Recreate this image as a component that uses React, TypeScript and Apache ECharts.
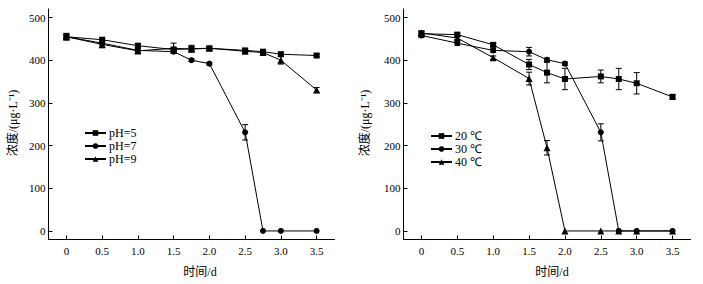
import React, { useEffect, useRef } from "react";
import * as echarts from "echarts";

const days = [0, 0.5, 1.0, 1.5, 1.75, 2.0, 2.5, 2.75, 3.0, 3.5];
const xTicks = [0, 0.5, 1.0, 1.5, 2.0, 2.5, 3.0, 3.5];
const yTicks = [0, 100, 200, 300, 400, 500];

const pH5 = [455, 448, 434, 425, 427, 428, 423, 420, 414, 411];
const pH5Err = [8, 5, 5, 5, 8, 3, 3, 3, 5, 3];
const pH7 = [455, 440, 423, 420, 400, 392, 231, 0, 0, 0];
const pH7Err = [5, 4, 4, 4, 3, 3, 18, 0, 0, 0];
const pH9 = [455, 437, 422, 428, 426, 428, 421, 418, 400, 330];
const pH9Err = [6, 8, 7, 12, 5, 4, 3, 3, 9, 6];

const t20 = [462, 460, 436, 390, 371, 356, 362, 356, 346, 314];
const t20Err = [5, 4, 4, 12, 24, 25, 15, 25, 25, 6];
const t30 = [458, 440, 423, 420, 401, 392, 231, 0, 0, 0];
const t30Err = [5, 5, 5, 10, 4, 4, 20, 0, 0, 0];
const t40 = [464, 452, 406, 357, 195, 0, 0, 0, 0, 0];
const t40Err = [5, 4, 4, 15, 17, 0, 0, 0, 0, 0];

const leftNames = ["pH=5", "pH=7", "pH=9"];
const rightNames = ["20 ℃", "30 ℃", "40 ℃"];
const symbols = ["rect", "circle", "triangle"];
const symbolSizes = [6, 6, 7];

const SERIF = "Liberation Serif";
const CJK = "Liberation Serif, Noto Sans CJK SC";

export default function App() {
  const ref = useRef<HTMLDivElement>(null);
  useEffect(() => {
    document.body.style.margin = "0";
    if (!ref.current) return;
    const chart = echarts.init(ref.current, null, { renderer: "svg" });

    const mkX = (gi: number) => ({
      type: "value",
      gridIndex: gi,
      min: -0.25,
      max: 3.75,
      axisLine: { show: true, onZero: false, lineStyle: { color: "#000", width: 1 } },
      axisTick: { show: true, inside: true, length: 4, customValues: xTicks, lineStyle: { color: "#000" } },
      axisLabel: {
        customValues: xTicks,
        color: "#000",
        fontFamily: SERIF,
        fontSize: 11,
        margin: 6,
        formatter: (v: number) => (v === 0 ? "0" : v.toFixed(1)),
      },
      splitLine: { show: false },
    });
    const mkY = (gi: number) => ({
      type: "value",
      gridIndex: gi,
      min: -20,
      max: 520,
      axisLine: { show: true, onZero: false, lineStyle: { color: "#000", width: 1 } },
      axisTick: { show: true, inside: true, length: 4, customValues: yTicks, lineStyle: { color: "#000" } },
      axisLabel: { customValues: yTicks, color: "#000", fontFamily: SERIF, fontSize: 11, margin: 3 },
      splitLine: { show: false },
    });

    const lineSeries = (name: string, vals: number[], idx: number, gi: number) => ({
      type: "line",
      name,
      xAxisIndex: gi,
      yAxisIndex: gi,
      data: days.map((d, i) => [d, vals[i]]),
      symbol: symbols[idx],
      symbolSize: symbolSizes[idx],
      showAllSymbol: true,
      lineStyle: { color: "#000", width: 1 },
      itemStyle: { color: "#000" },
      z: 3,
    });
    const errSeries = (name: string, vals: number[], errs: number[], gi: number) => ({
      type: "custom",
      name,
      xAxisIndex: gi,
      yAxisIndex: gi,
      data: days.map((d, i) => [d, vals[i], errs[i]]),
      encode: { x: 0, y: 1 },
      z: 2,
      renderItem: (params: any, api: any) => {
        const x = api.value(0);
        const y = api.value(1);
        const e = api.value(2);
        if (!e) return null;
        const top = api.coord([x, y + e]);
        const bot = api.coord([x, y - e]);
        const st = { stroke: "#000", lineWidth: 1 };
        return {
          type: "group",
          children: [
            { type: "line", shape: { x1: top[0], y1: top[1], x2: bot[0], y2: bot[1] }, style: st },
            { type: "line", shape: { x1: top[0] - 3, y1: top[1], x2: top[0] + 3, y2: top[1] }, style: st },
            { type: "line", shape: { x1: bot[0] - 3, y1: bot[1], x2: bot[0] + 3, y2: bot[1] }, style: st },
          ],
        };
      },
    });

    const legendBase = {
      orient: "vertical",
      itemWidth: 21,
      itemHeight: 7,
      itemGap: 1,
      padding: 0,
      textStyle: { color: "#000", fontFamily: SERIF, fontSize: 12, lineHeight: 12, padding: [0, 0, 0, -2] },
    };

    const yName = "浓度/(μg·L⁻¹)";
    const xName = "时间/d";
    const nameStyle = { text: "", fill: "#000", fontFamily: CJK, fontSize: 12, align: "center", verticalAlign: "middle" };

    chart.setOption({
      animation: false,
      backgroundColor: "#fff",
      grid: [
        { left: 48.5, top: 9, width: 286, height: 230.5 },
        { left: 403.5, top: 9, width: 287, height: 230.5 },
      ],
      xAxis: [mkX(0), mkX(1)],
      yAxis: [mkY(0), mkY(1)],
      legend: [
        { ...legendBase, left: 84, top: 127, data: leftNames },
        { ...legendBase, left: 430, top: 130, data: rightNames },
      ],
      graphic: [
        { type: "text", x: 13, y: 123, rotation: Math.PI / 2, style: { ...nameStyle, text: yName } },
        { type: "text", x: 365, y: 123, rotation: Math.PI / 2, style: { ...nameStyle, text: yName } },
        { type: "text", x: 200, y: 272, style: { ...nameStyle, text: xName } },
        { type: "text", x: 552, y: 272, style: { ...nameStyle, text: xName } },
      ],
      series: [
        errSeries("e5", pH5, pH5Err, 0),
        errSeries("e7", pH7, pH7Err, 0),
        errSeries("e9", pH9, pH9Err, 0),
        lineSeries(leftNames[0], pH5, 0, 0),
        lineSeries(leftNames[1], pH7, 1, 0),
        lineSeries(leftNames[2], pH9, 2, 0),
        errSeries("e20", t20, t20Err, 1),
        errSeries("e30", t30, t30Err, 1),
        errSeries("e40", t40, t40Err, 1),
        lineSeries(rightNames[0], t20, 0, 1),
        lineSeries(rightNames[1], t30, 1, 1),
        lineSeries(rightNames[2], t40, 2, 1),
      ],
    });
    return () => chart.dispose();
  }, []);
  return <div ref={ref} style={{ width: 703, height: 284 }} />;
}
